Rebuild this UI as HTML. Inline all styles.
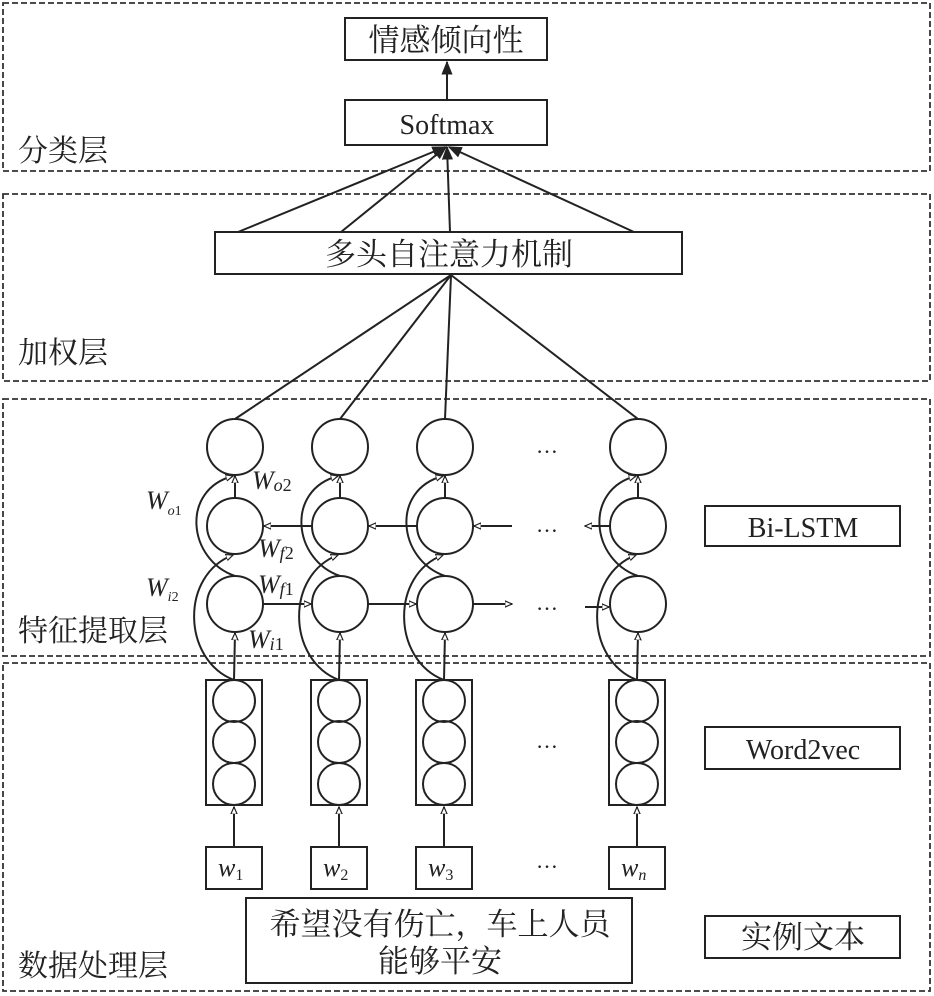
<!DOCTYPE html>
<html><head><meta charset="utf-8"><style>
body{margin:0;background:#fff}
svg{display:block}
text{font-family:"Liberation Serif","Noto Serif CJK SC",serif;fill:#222}
</style></head><body>
<svg width="934" height="996" viewBox="0 0 934 996" xmlns="http://www.w3.org/2000/svg">
<defs>
<marker id="a" viewBox="0 0 10 10" refX="9" refY="5" markerWidth="8" markerHeight="8" orient="auto-start-reverse" markerUnits="userSpaceOnUse"><path d="M0,1 L9,5 L0,9 z" fill="#fff" stroke="#222" stroke-width="1.5"/></marker>
<marker id="b" viewBox="0 0 10 10" refX="9" refY="5" markerWidth="14" markerHeight="14" orient="auto" markerUnits="userSpaceOnUse"><path d="M0,1 L10,5 L0,9 z" fill="#222"/></marker>
</defs>
<g fill="none" stroke="#333" stroke-width="1.8" stroke-dasharray="6,3">
<rect x="3" y="3" width="927" height="168"/>
<rect x="3" y="194" width="927" height="187"/>
<rect x="3" y="399" width="927" height="257"/>
<rect x="3" y="663" width="927" height="328"/>
</g>
<g fill="none" stroke="#222" stroke-width="2">
<rect x="345" y="18" width="202" height="42"/>
<rect x="345" y="100" width="202" height="45"/>
<rect x="215" y="232" width="467" height="42"/>
<rect x="705" y="506" width="195" height="40"/>
<rect x="705" y="727" width="195" height="42"/>
<rect x="705" y="916" width="195" height="42"/>
<rect x="246" y="898" width="386" height="85"/>
</g>
<g stroke="#222" stroke-width="2" fill="none">
<line x1="447" y1="100" x2="447" y2="62" marker-end="url(#b)"/>
<line x1="238" y1="232" x2="445" y2="147" marker-end="url(#b)"/>
<line x1="341" y1="232" x2="446" y2="147" marker-end="url(#b)"/>
<line x1="450" y1="232" x2="447" y2="147" marker-end="url(#b)"/>
<line x1="634" y1="232" x2="449" y2="147" marker-end="url(#b)"/>
<line x1="451" y1="275" x2="235" y2="419"/>
<line x1="451" y1="275" x2="340" y2="419"/>
<line x1="451" y1="275" x2="445" y2="419"/>
<line x1="451" y1="275" x2="638" y2="419"/>
</g>
<g stroke="#222" stroke-width="2" fill="none">
<g id="c1">
<circle cx="235" cy="447" r="28"/><circle cx="235" cy="526" r="28"/><circle cx="235" cy="604" r="28"/>
<line x1="235" y1="498" x2="235" y2="476" marker-end="url(#a)"/>
<line x1="234" y1="680" x2="235" y2="633" marker-end="url(#a)"/>
<path d="M235,576 C188,560 180,490 233,476" marker-end="url(#a)"/>
<path d="M234,680 C182,660 180,575 233,555" marker-end="url(#a)"/>
<rect x="206" y="680" width="56" height="125"/>
<circle cx="234" cy="701" r="21"/><circle cx="234" cy="742" r="21"/><circle cx="234" cy="784" r="21"/>
<line x1="234" y1="847" x2="234" y2="807" marker-end="url(#a)"/>
<rect x="206" y="847" width="56" height="42"/>
</g>
<use href="#c1" x="105"/>
<use href="#c1" x="210"/>
<use href="#c1" x="403"/>
<line x1="312" y1="526" x2="264" y2="526" marker-end="url(#a)"/>
<line x1="417" y1="526" x2="369" y2="526" marker-end="url(#a)"/>
<line x1="512" y1="526" x2="474" y2="526" marker-end="url(#a)"/>
<line x1="610" y1="526" x2="585" y2="526" marker-end="url(#a)"/>
<line x1="263" y1="604" x2="311" y2="604" marker-end="url(#a)"/>
<line x1="368" y1="604" x2="416" y2="604" marker-end="url(#a)"/>
<line x1="473" y1="604" x2="512" y2="604" marker-end="url(#a)"/>
<line x1="585" y1="607" x2="609" y2="607" marker-end="url(#a)"/>
</g>
<g font-size="22" text-anchor="middle">
<text x="547" y="453">…</text><text x="547" y="532">…</text><text x="547" y="610">…</text>
<text x="547" y="748">…</text><text x="547" y="868">…</text>
</g>
<g font-size="31" text-anchor="middle">
<text x="446" y="51">情感倾向性</text>
<text x="447" y="134" font-size="28">Softmax</text>
<text x="449" y="265">多头自注意力机制</text>
<text x="803" y="537" font-size="28">Bi-LSTM</text>
<text x="803" y="759" font-size="28">Word2vec</text>
<text x="803" y="948">实例文本</text>
<text x="440" y="935">希望没有伤亡，车上人员</text>
<text x="440" y="972">能够平安</text>
</g>
<g font-size="30">
<text x="18" y="161">分类层</text>
<text x="18" y="363">加权层</text>
<text x="18" y="641">特征提取层</text>
<text x="18" y="976">数据处理层</text>
</g>
<g font-style="italic" font-size="26">
<text x="218" y="876">w<tspan font-size="16" font-style="normal" dy="4">1</tspan></text>
<text x="323" y="876">w<tspan font-size="16" font-style="normal" dy="4">2</tspan></text>
<text x="428" y="876">w<tspan font-size="16" font-style="normal" dy="4">3</tspan></text>
<text x="621" y="876">w<tspan font-size="16" dy="4">n</tspan></text>
<text x="146" y="509">W<tspan font-size="14" dy="6">o</tspan><tspan font-size="14" font-style="normal">1</tspan></text>
<text x="252" y="489">W<tspan font-size="18" dy="2">o</tspan><tspan font-size="18" font-style="normal">2</tspan></text>
<text x="258" y="557">W<tspan font-size="18" dy="2">f</tspan><tspan font-size="18" font-style="normal">2</tspan></text>
<text x="258" y="593">W<tspan font-size="18" dy="2">f</tspan><tspan font-size="18" font-style="normal">1</tspan></text>
<text x="146" y="596">W<tspan font-size="14" dy="5">i</tspan><tspan font-size="14" font-style="normal">2</tspan></text>
<text x="248" y="648">W<tspan font-size="18" dy="2">i</tspan><tspan font-size="18" font-style="normal">1</tspan></text>
</g>
</svg>
</body></html>
